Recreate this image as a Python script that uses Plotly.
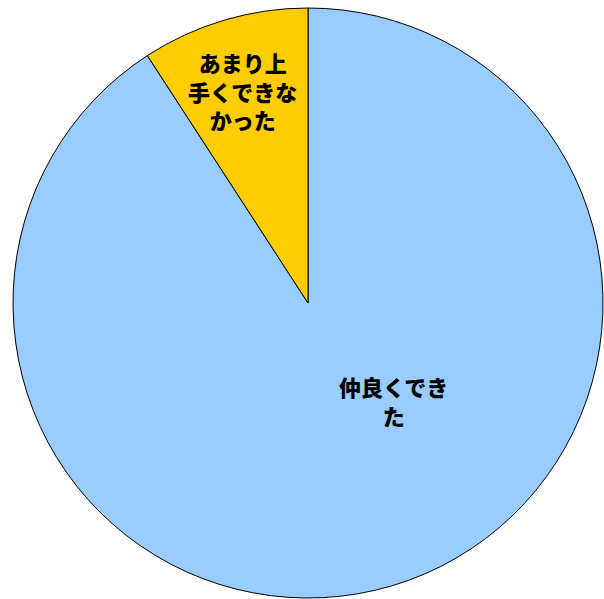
import plotly.graph_objects as go

labels = ["仲良くできた", "あまり上手くできなかった"]
values = [109, 11]
colors = ["#99CCFF", "#FFCC00"]
label_text = ["仲良くでき<br>た", "あまり上<br>手くできな<br>かった"]

W, H = 604, 599
fig = go.Figure(go.Pie(
    labels=labels, values=values, sort=False, direction="clockwise", rotation=0,
    marker=dict(colors=colors, line=dict(color="black", width=1)),
    textinfo="none", hoverinfo="label+percent",
    domain=dict(x=[13 / W, 603 / W], y=[1 / H, 591 / H]),
    showlegend=False,
))

pos = [(393, 400), (242, 90)]
for (x, y), t in zip(pos, label_text):
    fig.add_annotation(x=x / W, y=1 - y / H, xref="paper", yref="paper",
                       text=t, showarrow=False,
                       font=dict(family="Noto Sans CJK JP", size=22, color="black", weight=900),
                       align="center", xanchor="center", yanchor="middle")

fig.update_layout(width=W, height=H, margin=dict(l=0, r=0, t=0, b=0),
                  paper_bgcolor="white", plot_bgcolor="white")
fig.write_html("out.html")
